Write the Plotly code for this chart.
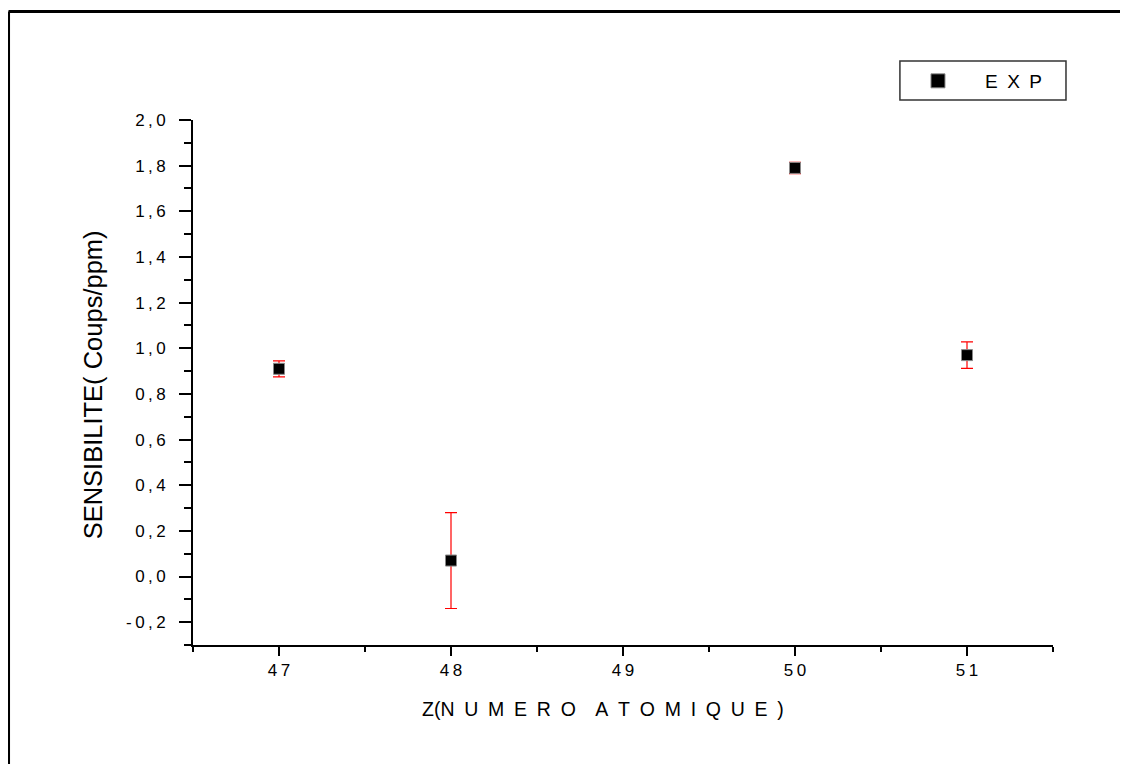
import plotly.graph_objects as go

# Data
z_values = [47, 48, 50, 51]
sensibilite = [0.91, 0.07, 1.79, 0.97]
erreur = [0.035, 0.21, 0.025, 0.058]

y_tick_vals = [-0.2, 0.0, 0.2, 0.4, 0.6, 0.8, 1.0, 1.2, 1.4, 1.6, 1.8, 2.0]
x_tick_vals = [47, 48, 49, 50, 51]

TS = "\u2009"
def sp(s):
    return TS.join(list(s))

y_tick_text = [sp(f"{v:.1f}".replace(".", ",")) for v in y_tick_vals]
x_tick_text = [sp(str(v)) for v in x_tick_vals]

FONT = "Arial, Liberation Sans, sans-serif"
EN = "\u2002"
series_name = EN.join("EXP")

fig = go.Figure()
fig.add_trace(go.Scatter(
    x=z_values, y=sensibilite,
    mode="markers",
    name=series_name, showlegend=False, legendgroup="exp",
    marker=dict(symbol="square", size=11, color="black",
                line=dict(color="#888888", width=1)),
    error_y=dict(type="data", array=erreur, visible=True,
                 color="red", thickness=1.2, width=6),
))
# Legend entry (slightly larger symbol, as in the reference legend)
fig.add_trace(go.Scatter(
    x=[None], y=[None], mode="markers", name=series_name,
    legendgroup="exp", showlegend=True,
    marker=dict(symbol="square", size=14, color="black",
                line=dict(color="#888888", width=1)),
))

fig.update_layout(
    width=1112, height=756,
    margin=dict(l=185, r=67, t=112, b=119),
    paper_bgcolor="white", plot_bgcolor="white",
    font=dict(family=FONT, color="black"),
    showlegend=True,
    legend=dict(x=0.8116, y=1.0743, xanchor="left", yanchor="middle",
                borderwidth=0, bgcolor="rgba(0,0,0,0)",
                itemwidth=84,
                font=dict(size=19, family=FONT)),
    xaxis=dict(range=[46.5, 51.5], showgrid=False, zeroline=False,
               showline=True, linecolor="black", linewidth=2,
               tickmode="array", tickvals=x_tick_vals, ticktext=x_tick_text,
               ticks="outside", ticklen=9, tickwidth=2, tickcolor="black",
               ticklabelstandoff=0,
               tickfont=dict(size=17, family=FONT),
               minor=dict(tickvals=[46.5, 47.5, 48.5, 49.5, 50.5, 51.5],
                          ticks="outside", ticklen=5, tickwidth=2,
                          tickcolor="black")),
    yaxis=dict(range=[-0.3, 2.0], showgrid=False, zeroline=False,
               showline=True, linecolor="black", linewidth=2,
               tickmode="array", tickvals=y_tick_vals, ticktext=y_tick_text,
               ticks="outside", ticklen=12, tickwidth=2, tickcolor="black",
               ticklabelstandoff=10,
               tickfont=dict(size=17, family=FONT),
               minor=dict(dtick=0.1, tick0=0, ticks="outside", ticklen=7,
                          tickwidth=2, tickcolor="black")),
)

# Axis titles
x_title = "Z(" + EN.join("NUMERO") + EN + EN + EN.join("ATOMIQUE") + EN + ")"
fig.add_annotation(text=x_title,
                   xref="paper", yref="paper", x=0.477, y=-0.122,
                   showarrow=False, font=dict(size=19.5, family=FONT),
                   xanchor="center", yanchor="middle")
fig.add_annotation(text="SENSIBILITE( Coups/ppm)",
                   xref="paper", yref="paper", x=-0.116, y=0.495,
                   showarrow=False, textangle=-90,
                   font=dict(size=25.5, family=FONT),
                   xanchor="center", yanchor="middle")

# Legend box
fig.add_shape(type="rect", xref="paper", yref="paper",
              x0=0.822, y0=1.0381, x1=1.0151, y1=1.1124,
              line=dict(color="#333333", width=1.5), fillcolor="rgba(0,0,0,0)")

# Outer frame: top and left edges (others fall outside the picture)
fig.add_shape(type="line", xref="paper", yref="paper",
              x0=-0.2145, y0=1.2067, x1=1.3, y1=1.2067,
              line=dict(color="black", width=3))
fig.add_shape(type="line", xref="paper", yref="paper",
              x0=-0.2145, y0=-0.5, x1=-0.2145, y1=1.2067,
              line=dict(color="black", width=3))

fig.write_html("out.html")
